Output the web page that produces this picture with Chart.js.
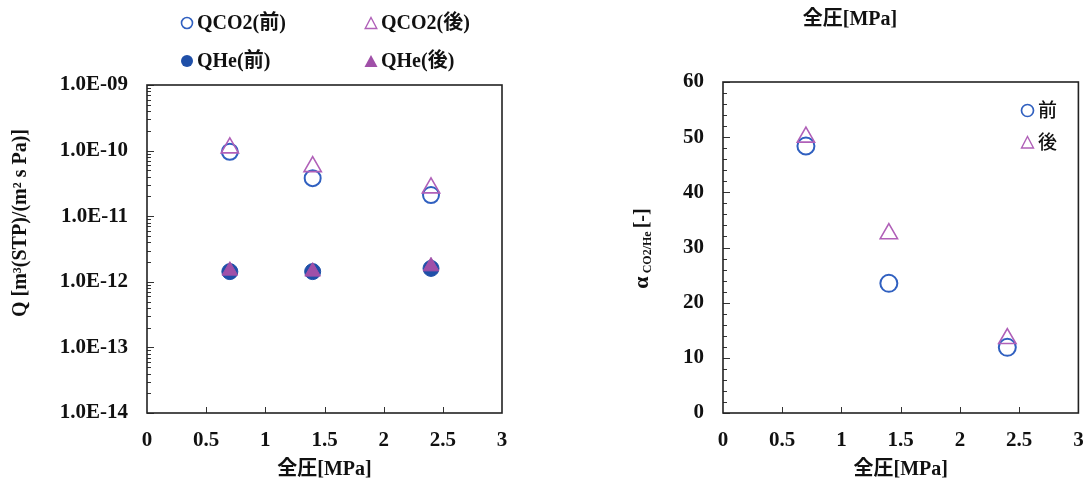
<!DOCTYPE html>
<html>
<head>
<meta charset="utf-8">
<script src="https://cdn.jsdelivr.net/npm/chart.js@4.4.1/dist/chart.umd.min.js"></script>
<style>
  body { margin: 0; background: #fff; }
  #wrap { position: relative; width: 1090px; height: 487px; overflow: hidden;
          font-family: "Liberation Serif", "Noto Sans CJK JP", serif; font-weight: bold; color: #111; }
  #c1 { position: absolute; left: 0; top: 0; }
  #c2 { position: absolute; left: 616px; top: 0; }
  .lg { position: absolute; font-size: 20px; line-height: 22px; white-space: nowrap; }
  .lg svg { vertical-align: -1px; margin-right: 3px; }
  .lg2 { position: absolute; font-family: "Noto Sans CJK JP", sans-serif; font-weight: 500;
         font-size: 19px; line-height: 22px; white-space: nowrap; }
  .lg2 svg { vertical-align: -1px; margin-right: 3px; }
</style>
</head>
<body>
<div id="wrap">
  <canvas id="c1" width="545" height="487"></canvas>
  <canvas id="c2" width="474" height="487"></canvas>

  <div class="lg" style="left:180px; top:11px;"><svg width="14" height="14"><circle cx="7" cy="7" r="5.5" fill="none" stroke="#3060c0" stroke-width="1.6"/></svg>QCO2(前)</div>
  <div class="lg" style="left:364px; top:11px;"><svg width="14" height="14"><polygon points="7,1.5 12.8,12.5 1.2,12.5" fill="none" stroke="#b060b8" stroke-width="1.4"/></svg>QCO2(後)</div>
  <div class="lg" style="left:180px; top:49px;"><svg width="14" height="14"><circle cx="7" cy="7" r="6" fill="#1f4fa8"/></svg>QHe(前)</div>
  <div class="lg" style="left:364px; top:49px;"><svg width="14" height="14"><polygon points="7,1 13.5,13 0.5,13" fill="#a050a8"/></svg>QHe(後)</div>

  <div class="lg2" style="left:1020px; top:98px;"><svg width="15" height="15"><circle cx="7.5" cy="7.5" r="6" fill="none" stroke="#3060c0" stroke-width="1.7"/></svg>前</div>
  <div class="lg2" style="left:1020px; top:130px;"><svg width="15" height="15"><polygon points="7.5,1.5 13.5,13 1.5,13" fill="none" stroke="#b060b8" stroke-width="1.4"/></svg>後</div>
</div>

<script>
// 全圧 [MPa]
const pressure = [0.7, 1.4, 2.4];

// 透過速度 Q [m3(STP)/(m2 s Pa)]
const qCO2Before = [9.6e-11, 3.8e-11, 2.1e-11];
const qCO2After = [1.1e-10, 5.7e-11, 2.7e-11];
const qHeBefore = [1.43e-12, 1.43e-12, 1.6e-12];
const qHeAfter = [1.48e-12, 1.43e-12, 1.72e-12];

// 分離係数 α CO2/He
const alphaBefore = [48.4, 23.5, 11.9];
const alphaAfter = [50.0, 32.5, 13.5];

// 目盛
const xTicks = [0, 0.5, 1, 1.5, 2, 2.5, 3];
const xTickLabels = ['0', '0.5', '1', '1.5', '2', '2.5', '3'];
const qTicks = [1e-14, 1e-13, 1e-12, 1e-11, 1e-10, 1e-9];
const qTickLabels = ['1.0E-14', '1.0E-13', '1.0E-12', '1.0E-11', '1.0E-10', '1.0E-09'];
const alphaTicks = [0, 10, 20, 30, 40, 50, 60];
const alphaTickLabels = ['0', '10', '20', '30', '40', '50', '60'];

const BLUE = '#3060c0';
const BLUE_FILL = '#1f4fa8';
const PURPLE = '#b060b8';
const PURPLE_FILL = '#a050a8';
const FONT = '"Liberation Serif", "Noto Sans CJK JP", serif';
const TICK_FONT = { family: FONT, size: 21, weight: 'bold' };

function pts(ys) {
  return pressure.map((x, i) => ({ x: x, y: ys[i] }));
}

// 補助目盛
const qMinor = [];
for (let e = -14; e < -9; e++) {
  for (let m = 2; m <= 9; m++) qMinor.push(m * Math.pow(10, e));
}
const alphaMinor = [];
for (let v = 2; v < 60; v += 2) {
  if (v % 10 !== 0) alphaMinor.push(v);
}

// 枠と内向き目盛
function framePlugin(minor) {
  return {
    id: 'frame',
    beforeDatasetsDraw(chart) {
      const { ctx, chartArea: a, scales: { x, y } } = chart;
      ctx.save();
      ctx.strokeStyle = '#333';
      ctx.lineWidth = 1;
      ctx.beginPath();
      xTicks.forEach(v => {
        if (v <= 0 || v >= 3) return;
        const px = Math.round(x.getPixelForValue(v)) + 0.5;
        ctx.moveTo(px, a.bottom);
        ctx.lineTo(px, a.bottom - 6);
      });
      y.ticks.forEach(t => {
        const py = Math.round(y.getPixelForValue(t.value)) + 0.5;
        ctx.moveTo(a.left, py);
        ctx.lineTo(a.left + 7, py);
      });
      minor.forEach(v => {
        const py = Math.round(y.getPixelForValue(v)) + 0.5;
        ctx.moveTo(a.left, py);
        ctx.lineTo(a.left + 4, py);
      });
      ctx.stroke();
      ctx.lineWidth = 1.6;
      ctx.strokeStyle = '#222';
      ctx.strokeRect(a.left, a.top, a.width, a.height);
      ctx.restore();
    }
  };
}

// 縦軸タイトル (添字付き)
function yTitlePlugin(x, dy, parts) {
  return {
    id: 'ytitle',
    afterDraw(chart) {
      const { ctx, chartArea: a } = chart;
      ctx.save();
      ctx.fillStyle = '#111';
      ctx.textBaseline = 'alphabetic';
      ctx.textAlign = 'left';
      const widths = parts.map(p => {
        ctx.font = 'bold ' + p.size + 'px ' + FONT;
        return ctx.measureText(p.text).width;
      });
      const total = widths.reduce((s, w) => s + w, 0);
      ctx.translate(x, (a.top + a.bottom) / 2 + dy);
      ctx.rotate(-Math.PI / 2);
      let cx = -total / 2;
      parts.forEach((p, i) => {
        ctx.font = 'bold ' + p.size + 'px ' + FONT;
        ctx.fillText(p.text, cx, 7 + (p.shift || 0));
        cx += widths[i];
      });
      ctx.restore();
    }
  };
}

function xScale() {
  return {
    type: 'linear',
    min: 0,
    max: 3,
    afterBuildTicks: s => { s.ticks = xTicks.map(v => ({ value: v })); },
    afterFit: s => { s.height = 74; s.paddingLeft = 4; s.paddingRight = 4; },
    grid: { display: false, drawTicks: false },
    border: { display: false },
    ticks: {
      padding: 15,
      color: '#111',
      font: TICK_FONT,
      callback: (v, i) => xTickLabels[i]
    },
    title: {
      display: true,
      text: '全圧[MPa]',
      color: '#111',
      font: { family: FONT, size: 20, weight: 'bold' },
      padding: { top: 0, bottom: 5 }
    }
  };
}

function yScaleCommon(width, labels) {
  return {
    afterFit: s => { s.width = width; },
    grid: { display: false, drawTicks: false },
    border: { display: false },
    ticks: {
      padding: 19,
      color: '#111',
      font: TICK_FONT,
      callback: (v, i) => labels[i]
    }
  };
}

new Chart(document.getElementById('c1'), {
  type: 'scatter',
  data: {
    datasets: [
      { label: 'QCO2(後)', data: pts(qCO2After), order: 0, pointStyle: 'triangle', pointRadius: 10,
        borderColor: PURPLE, backgroundColor: 'rgba(255,255,255,0)', borderWidth: 1.6 },
      { label: 'QHe(後)', data: pts(qHeAfter), order: 0, pointStyle: 'triangle', pointRadius: 9,
        borderColor: PURPLE_FILL, backgroundColor: PURPLE_FILL, borderWidth: 1 },
      { label: 'QCO2(前)', data: pts(qCO2Before), order: 1, pointStyle: 'circle', pointRadius: 8,
        borderColor: BLUE, backgroundColor: 'rgba(255,255,255,0)', borderWidth: 2 },
      { label: 'QHe(前)', data: pts(qHeBefore), order: 1, pointStyle: 'circle', pointRadius: 8,
        borderColor: BLUE_FILL, backgroundColor: BLUE_FILL, borderWidth: 1 }
    ]
  },
  options: {
    responsive: false,
    animation: false,
    events: [],
    layout: { padding: { top: 85, right: 43, bottom: 0, left: 0 } },
    plugins: { legend: { display: false }, tooltip: { enabled: false } },
    scales: {
      x: xScale(),
      y: Object.assign({
        type: 'logarithmic',
        min: 1e-14,
        max: 1e-9,
        afterBuildTicks: s => { s.ticks = qTicks.map(v => ({ value: v })); }
      }, yScaleCommon(147, qTickLabels))
    }
  },
  plugins: [
    framePlugin(qMinor),
    yTitlePlugin(19, -26, [{ text: 'Q [m³(STP)/(m² s Pa)]', size: 20 }])
  ]
});

new Chart(document.getElementById('c2'), {
  type: 'scatter',
  data: {
    datasets: [
      { label: '後', data: pts(alphaAfter), order: 0, pointStyle: 'triangle', pointRadius: 10,
        borderColor: PURPLE, backgroundColor: 'rgba(255,255,255,0)', borderWidth: 1.6 },
      { label: '前', data: pts(alphaBefore), order: 1, pointStyle: 'circle', pointRadius: 8.5,
        borderColor: BLUE, backgroundColor: 'rgba(255,255,255,0)', borderWidth: 2 }
    ]
  },
  options: {
    responsive: false,
    animation: false,
    events: [],
    layout: { padding: { top: 0, right: 6, bottom: 0, left: 0 } },
    plugins: {
      legend: { display: false },
      tooltip: { enabled: false },
      title: {
        display: true,
        text: '全圧[MPa]',
        color: '#111',
        font: { family: FONT, size: 20, weight: 'bold' },
        padding: { top: 8, bottom: 50 }
      }
    },
    scales: {
      x: xScale(),
      y: Object.assign({
        type: 'linear',
        min: 0,
        max: 60,
        afterBuildTicks: s => { s.ticks = alphaTicks.map(v => ({ value: v })); }
      }, yScaleCommon(107, alphaTickLabels))
    }
  },
  plugins: [
    framePlugin(alphaMinor),
    yTitlePlugin(25, 1, [
      { text: 'α', size: 22 },
      { text: ' CO2/He ', size: 12, shift: 3 },
      { text: '[-]', size: 20 }
    ])
  ]
});
</script>
</body>
</html>
